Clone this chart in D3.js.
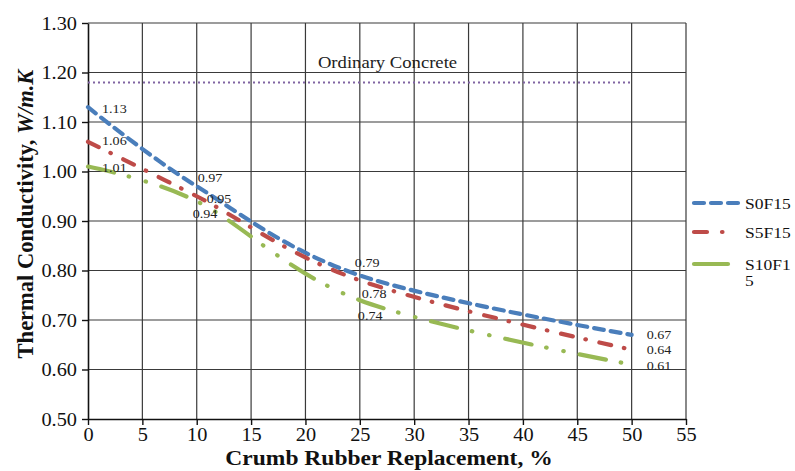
<!DOCTYPE html>
<html>
<head>
<meta charset="utf-8">
<script src="https://cdn.jsdelivr.net/npm/d3@7"></script>
<style>
  html, body { margin: 0; padding: 0; background: #fff; }
  svg { display: block; }
  svg text { font-family: "Liberation Serif", "Times New Roman", serif; }
</style>
</head>
<body>
<svg id="chart" width="795" height="471"></svg>
<script>
// Crumb rubber replacement levels (%)
const replacement = [0, 10, 25, 50];
// Thermal conductivity (W/m.K) per mix
const s0f15 = [1.13, 0.97, 0.79, 0.67];
const s5f15 = [1.06, 0.95, 0.78, 0.64];
const s10f15 = [1.01, 0.94, 0.74, 0.61];
const seriesNames = ["S0F15", "S5F15", "S10F15"];
// Reference value for ordinary concrete
const ordinaryConcrete = 1.18;
const ordinaryLabel = "Ordinary Concrete";
// Axis ticks
const xTicks = [0, 5, 10, 15, 20, 25, 30, 35, 40, 45, 50, 55];
const yTicks = [0.50, 0.60, 0.70, 0.80, 0.90, 1.00, 1.10, 1.20, 1.30];

const svg = d3.select("#chart");
const plot = { left: 88, right: 686, top: 23, bottom: 419 };
// Horizontal text stretch of the typeset figure
const SX = 1.13;

const x = d3.scaleLinear().domain([0, 55]).range([plot.left, plot.right]);
const y = d3.scaleLinear().domain([0.5, 1.3]).range([plot.bottom, plot.top]);

// Places a horizontally stretched text at (px, py)
function stretchedText(parent, px, py, sx = SX) {
  return parent.append("text")
    .attr("transform", `translate(${px},${py}) scale(${sx},1)`);
}

// Grid
const grid = svg.append("g").attr("stroke", "#3a3a3a").attr("stroke-width", 1.2);
grid.selectAll("line.v").data(xTicks.slice(1)).join("line")
  .attr("x1", d => x(d)).attr("x2", d => x(d)).attr("y1", plot.top).attr("y2", plot.bottom);
grid.selectAll("line.h").data(yTicks.slice(1)).join("line")
  .attr("x1", plot.left).attr("x2", plot.right).attr("y1", d => y(d)).attr("y2", d => y(d));

// Axes
const xAxis = d3.axisBottom(x).tickValues(xTicks).tickFormat(d3.format("d")).tickSize(6).tickSizeOuter(0);
const yAxis = d3.axisLeft(y).tickValues(yTicks).tickFormat(d3.format(".2f")).tickSize(6).tickSizeOuter(0);

const gx = svg.append("g").attr("transform", `translate(0,${plot.bottom})`).call(xAxis);
gx.attr("font-family", null);
gx.selectAll("text")
  .attr("font-size", 18).attr("fill", "#111")
  .attr("y", null).attr("dy", null)
  .attr("transform", `translate(0,22) scale(${SX},1)`);
const gy = svg.append("g").attr("transform", `translate(${plot.left},0)`).call(yAxis);
gy.attr("font-family", null);
gy.selectAll("text")
  .attr("font-size", 18).attr("fill", "#111")
  .attr("x", null).attr("dy", null)
  .attr("transform", `translate(-11,6) scale(${SX},1)`);
svg.selectAll(".domain").attr("stroke", "#111").attr("stroke-width", 1.6);
svg.selectAll(".tick line").attr("stroke", "#111").attr("stroke-width", 1.4);

// Axis titles
stretchedText(svg, 389, 465, 1.12)
  .attr("text-anchor", "middle").attr("font-size", 21).attr("font-weight", "bold").attr("fill", "#111")
  .text("Crumb Rubber Replacement, %");
const yt = svg.append("text")
  .attr("transform", `translate(33,214) rotate(-90)`)
  .attr("text-anchor", "middle").attr("font-size", 22.5).attr("font-weight", "bold").attr("fill", "#111");
yt.append("tspan").text("Thermal Conductivity, ");
yt.append("tspan").attr("font-style", "italic").text("W/m.K");

// Ordinary concrete reference line
svg.append("line")
  .attr("x1", x(0)).attr("x2", x(50)).attr("y1", y(ordinaryConcrete)).attr("y2", y(ordinaryConcrete))
  .attr("stroke", "#8064a2").attr("stroke-width", 2).attr("stroke-dasharray", "2,3");
stretchedText(svg, 387.5, y(ordinaryConcrete) - 14)
  .attr("text-anchor", "middle").attr("font-size", 16.5).attr("fill", "#222")
  .text(ordinaryLabel);

// Series lines
const styles = [
  { color: "#4a7ebb", dash: "10,7", width: 4.2 },
  { color: "#be4b48", dash: "12,13,0.5,14", width: 4.2 },
  { color: "#98b954", dash: "27,15,0.5,17,0.5,16", width: 4.2 }
];
const allSeries = [s0f15, s5f15, s10f15];
const line = d3.line().x(d => x(d[0])).y(d => y(d[1])).curve(d3.curveCardinal.tension(0));

allSeries.forEach((vals, i) => {
  const pts = replacement.map((r, j) => [r, vals[j]]);
  svg.append("path")
    .attr("d", line(pts))
    .attr("fill", "none")
    .attr("stroke", styles[i].color)
    .attr("stroke-width", styles[i].width)
    .attr("stroke-linecap", "round")
    .attr("stroke-dasharray", styles[i].dash);
});

// Data labels (offsets from each point, in px)
const labelOffsets = [
  [[14, 6], [1, -4], [-5, -8], [15, 4.5]],
  [[14, 3], [10, 7], [2, 18], [15, 4]],
  [[14, 5.6], [-4, 17], [-2, 20], [15, 5.6]]
];
allSeries.forEach((vals, i) => {
  vals.forEach((v, j) => {
    stretchedText(svg, x(replacement[j]) + labelOffsets[i][j][0], y(v) + labelOffsets[i][j][1])
      .attr("font-size", 12.5).attr("fill", "#222")
      .text(v.toFixed(2));
  });
});

// Legend
const legendRows = [203, 232, 264];
seriesNames.forEach((name, i) => {
  const g = svg.append("g");
  g.append("line")
    .attr("x1", 694).attr("x2", 740).attr("y1", legendRows[i]).attr("y2", legendRows[i])
    .attr("stroke", styles[i].color).attr("stroke-width", styles[i].width)
    .attr("stroke-linecap", "round")
    .attr("stroke-dasharray", i === 0 ? "10,7" : i === 1 ? "13,15,0.5,40" : "34,40");
  const t = stretchedText(g, 745, legendRows[i] + 5.5)
    .attr("font-size", 15.5).attr("fill", "#111");
  if (name.length > 5) {
    t.append("tspan").text(name.slice(0, 5));
    t.append("tspan").attr("x", 0).attr("dy", 16.5).text(name.slice(5));
  } else {
    t.text(name);
  }
});
</script>
</body>
</html>
